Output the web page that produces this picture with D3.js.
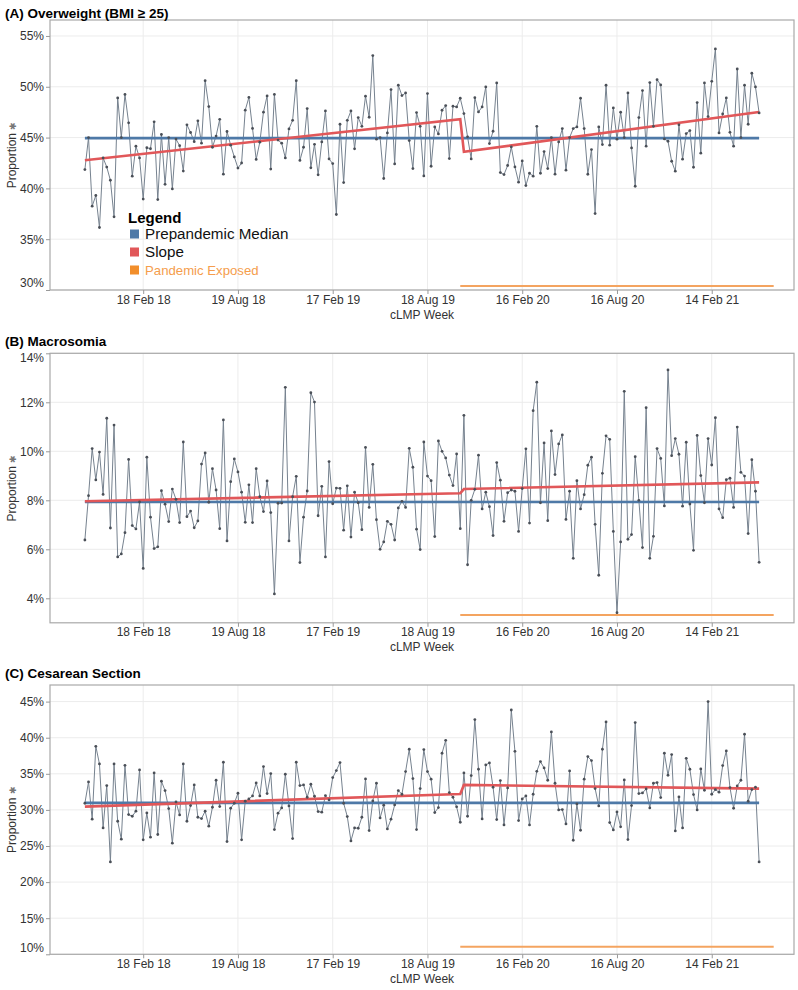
<!DOCTYPE html>
<html><head><meta charset="utf-8">
<script src="https://cdn.jsdelivr.net/npm/d3@7"></script>
<style>
body{margin:0;background:#fff}
svg{display:block}
text{font-family:"Liberation Sans",Arial,sans-serif}
</style>
</head><body>
<svg id="c" width="798" height="990"></svg>
<script>
// ---------- data ----------
const firstWeek = new Date(2017, 9, 29);   // first cLMP week (Sunday)
const nWeeks = 186;
const xTicks = [new Date(2018,1,18), new Date(2018,7,19), new Date(2019,1,17), new Date(2019,7,18),
                new Date(2020,1,16), new Date(2020,7,16), new Date(2021,1,14)];
const xDomain = [new Date(2017,7,23), new Date(2021,6,22)];
const pandemicPeriod = [new Date(2019,9,20), new Date(2021,5,13)];
const breakWeek = 104; // first post-break week index

const overweight = [41.85,45.0,38.25,39.3,36.15,43.0,42.1,40.8,37.2,48.9,
45.0,49.25,46.45,41.2,44.15,43.0,38.95,44.0,43.9,46.55,
38.9,45.3,40.4,45.0,39.95,44.85,44.2,41.7,46.25,45.5,
44.6,46.65,44.45,50.6,48.05,44.05,45.15,46.8,41.4,45.6,
44.25,43.1,42.0,42.5,47.7,48.95,45.9,42.85,44.55,47.5,
49.1,41.9,49.25,44.75,44.45,43.0,45.85,46.7,50.6,42.75,
44.05,47.85,42.02,44.34,41.33,44.57,47.62,42.9,42.44,37.43,
46.31,40.57,46.7,47.62,43.89,46.97,46.11,49.07,47.0,53.07,
44.84,45.0,40.97,45.46,49.72,42.41,50.15,49.13,49.39,44.7,
41.95,47.46,46.11,41.23,49.33,42.18,46.05,45.36,47.69,48.15,
42.93,48.08,48.02,48.87,47.36,45.07,42.9,48.93,47.52,48.02,
49.98,44.41,45.62,50.38,41.56,41.36,42.25,44.08,42.11,40.61,
42.7,40.28,41.49,41.2,46.11,41.49,43.62,41.95,45.0,41.4,
44.57,45.89,41.79,45.0,45.89,46.05,48.87,45.89,41.39,43.82,
37.52,46.05,44.31,50.15,44.25,47.92,44.84,47.49,45.0,49.39,
43.98,40.21,46.97,49.62,44.15,50.41,46.11,50.7,50.18,44.87,
44.64,42.67,41.69,46.25,42.87,45.39,45.69,42.08,48.44,43.46,
50.38,47.07,50.54,53.72,45.46,47.33,48.9,45.52,44.15,51.75,
45.0,50.15,46.31,51.33,49.98,47.43];

const macrosomia = [6.38,8.19,10.11,8.83,9.97,8.24,11.35,6.87,11.07,5.69,
5.81,6.68,9.67,6.97,6.83,7.93,5.22,9.76,7.31,6.03,
6.1,8.39,7.84,7.13,8.46,8.04,7.09,10.38,7.33,7.56,
6.88,7.16,9.48,9.93,7.92,9.29,8.42,6.84,11.28,6.34,
8.76,9.69,9.16,8.33,7.1,8.63,7.09,9.29,8.15,7.54,
8.79,7.5,4.18,7.88,7.89,12.61,6.34,8.15,8.98,5.46,
7.31,8.38,12.39,12.01,7.37,8.57,5.69,9.58,7.86,8.5,
8.49,6.78,8.59,6.5,8.33,7.9,6.8,10.16,7.71,9.47,
7.21,6.0,6.3,7.14,7.02,6.38,7.69,7.96,7.71,10.12,
9.35,6.82,5.99,10.38,8.99,8.8,6.52,10.42,10.0,9.73,
9.03,8.6,9.89,6.84,11.47,5.37,8.0,8.45,9.84,7.65,
8.33,7.74,6.56,9.54,8.82,7.14,8.31,8.42,8.37,6.73,
8.48,10.1,7.07,11.66,12.82,7.9,10.34,7.17,10.83,9.05,
10.3,10.67,7.22,8.37,5.63,8.8,7.65,8.23,9.43,9.76,
7.02,4.94,9.1,10.63,10.49,6.73,3.41,6.3,12.45,6.41,
6.6,9.78,8.0,6.07,11.78,5.63,6.53,10.11,9.71,7.77,
13.32,9.82,10.52,9.88,7.76,10.37,7.85,5.96,10.65,9.01,
7.9,10.52,9.44,11.37,7.65,7.29,8.84,8.9,7.71,10.99,
9.14,8.99,6.64,9.66,8.37,5.47];

const cesarean = [30.92,33.88,28.71,38.81,36.37,27.51,33.37,22.8,36.37,28.43,
25.94,36.18,29.35,29.12,29.82,35.54,25.85,29.58,26.22,35.12,
26.59,33.97,32.68,30.18,25.39,31.11,29.31,36.37,28.43,30.6,
33.46,28.98,28.8,29.82,27.74,30.37,34.11,30.46,36.6,25.62,
30.23,30.92,32.31,25.85,31.2,31.52,31.94,33.74,31.94,36.0,
32.26,35.03,27.28,29.54,30.28,34.94,30.55,26.03,36.6,33.37,
33.46,31.75,33.55,31.89,29.77,29.68,31.98,31.38,34.48,35.45,
36.55,30.92,29.08,25.71,27.51,27.46,28.98,34.29,27.14,31.25,
33.69,28.89,30.65,27.37,28.71,30.69,32.68,32.17,35.31,38.4,
34.34,27.28,32.95,38.35,35.31,34.25,29.63,30.32,37.85,39.64,
32.4,31.75,30.42,28.29,35.12,29.12,34.75,42.51,35.63,28.75,
36.23,36.51,33.14,28.66,34.06,27.92,33.05,43.84,38.12,28.52,
31.52,31.94,27.92,32.17,35.35,36.69,35.81,34.11,40.8,33.69,
30.0,30.05,28.06,35.4,25.8,30.83,27.18,34.25,37.38,36.83,
32.95,30.55,38.4,42.18,28.25,27.23,29.72,27.65,34.15,25.89,
30.6,42.09,32.26,32.35,32.91,30.28,33.69,33.78,31.71,37.85,
34.8,37.66,27.09,31.8,27.51,37.15,35.63,32.12,30.0,35.68,
32.72,45.0,32.17,32.81,32.45,36.14,38.17,33.09,30.23,33.32,
34.11,40.48,31.2,32.81,33.14,22.8];

// prepandemic medians
const overweightMedian = 44.95, macrosomiaMedian = 7.93, cesareanMedian = 30.97;
// segmented slope: [pre start, pre end, post start, post end]
const overweightSlope = [42.77, 46.8, 43.59, 47.52];
const macrosomiaSlope = [7.96, 8.29, 8.46, 8.73];
const cesareanSlope   = [30.46, 32.2, 33.46, 32.95];

const overweightTicks = [30,35,40,45,50,55];
const macrosomiaTicks = [4,6,8,10,12,14];
const cesareanTicks   = [10,15,20,25,30,35,40,45];

const titles = ["(A) Overweight (BMI \u2265 25)", "(B) Macrosomia", "(C) Cesarean Section"];
const legendLabels = ["Prepandemic Median", "Slope", "Pandemic Exposed"];

// ---------- layout ----------
const C_BLUE = "#4e79a7", C_RED = "#e15759", C_ORANGE = "#f28e2b", C_ORANGE_LINE = "#f4a460";
const L = 50, R = 794;
const layout = [
  {values: overweight, median: overweightMedian, slope: overweightSlope, ticks: overweightTicks,
   domain: [30, 56.57], top: 20, bottom: 290, titleY: 18, pandemicLevel: 30.39},
  {values: macrosomia, median: macrosomiaMedian, slope: macrosomiaSlope, ticks: macrosomiaTicks,
   domain: [3, 14], top: 353.3, bottom: 622.8, titleY: 346, pandemicLevel: 3.32},
  {values: cesarean, median: cesareanMedian, slope: cesareanSlope, ticks: cesareanTicks,
   domain: [10, 47.3], top: 685, bottom: 954.3, titleY: 678, pandemicLevel: 11.05}
];

const weeks = d3.range(nWeeks).map(i => d3.timeWeek.offset(firstWeek, i));
const svg = d3.select("#c");
const x = d3.scaleTime().domain(xDomain).range([L, R]);
const fmt = d3.timeFormat("%-d %b %y");

layout.forEach((p, k) => {
  const y = d3.scaleLinear().domain(p.domain).range([p.bottom, p.top]);
  const g = svg.append("g");

  // gridlines
  g.append("g").selectAll("line").data(xTicks).join("line")
    .attr("x1", d => x(d)).attr("x2", d => x(d))
    .attr("y1", p.top).attr("y2", p.bottom)
    .attr("stroke", "#ececec").attr("stroke-width", 1);
  g.append("g").selectAll("line").data(p.ticks).join("line")
    .attr("x1", L).attr("x2", R)
    .attr("y1", d => y(d)).attr("y2", d => y(d))
    .attr("stroke", "#ececec").attr("stroke-width", 1);

  // frame
  g.append("rect").attr("x", L).attr("y", p.top)
    .attr("width", R - L).attr("height", p.bottom - p.top)
    .attr("fill", "none").attr("stroke", "#a9a9a9").attr("stroke-width", 1.2);

  // x axis
  const xa = g.append("g").attr("transform", `translate(0,${p.bottom})`)
    .call(d3.axisBottom(x).tickValues(xTicks).tickFormat(fmt).tickSize(4).tickSizeOuter(0).tickPadding(1));
  xa.select(".domain").remove();
  xa.attr("font-family", null).attr("font-size", 12);
  xa.selectAll("line").attr("stroke", "#999");
  xa.selectAll("text").attr("fill", "#333");

  // y axis
  const ya = g.append("g").attr("transform", `translate(${L},0)`)
    .call(d3.axisLeft(y).tickValues(p.ticks).tickFormat(d => d + "%").tickSize(4).tickSizeOuter(0).tickPadding(2));
  ya.select(".domain").remove();
  ya.attr("font-family", null).attr("font-size", 12);
  ya.selectAll("line").attr("stroke", "#999");
  ya.selectAll("text").attr("fill", "#333")
    .attr("transform", d => {
      const yy = y(d);
      const c = Math.max(p.top + 4, Math.min(p.bottom - 7, yy));
      return `translate(0,${c - yy})`;
    });

  // axis titles
  g.append("text").attr("x", (L + R) / 2).attr("y", p.bottom + 28.5)
    .attr("text-anchor", "middle").attr("font-size", 12).attr("fill", "#333").text("cLMP Week");
  const yt = g.append("text")
    .attr("transform", `translate(16,${(p.top + p.bottom) / 2}) rotate(-90)`)
    .attr("text-anchor", "middle").attr("font-size", 12).attr("fill", "#333");
  yt.append("tspan").text("Proportion ");
  yt.append("tspan").attr("font-size", 9).attr("fill", "#777").text("\u2731");

  // panel title
  g.append("text").attr("x", 5).attr("y", p.titleY)
    .attr("font-size", 13.5).attr("font-weight", "bold").attr("fill", "#000").text(titles[k]);

  // data series
  const line = d3.line().x((d, i) => x(weeks[i])).y(d => y(d));
  g.append("path").datum(p.values).attr("d", line)
    .attr("fill", "none").attr("stroke", "#76828f").attr("stroke-width", 1);

  // median
  const seg = d3.line().x(d => x(d[0])).y(d => y(d[1]));
  g.append("path").datum([[weeks[0], p.median], [weeks[nWeeks - 1], p.median]])
    .attr("d", seg).attr("fill", "none").attr("stroke", C_BLUE).attr("stroke-width", 2.6);

  // slope
  g.append("path").datum([[weeks[0], p.slope[0]], [weeks[breakWeek - 1], p.slope[1]],
                          [weeks[breakWeek], p.slope[2]], [weeks[nWeeks - 1], p.slope[3]]])
    .attr("d", seg).attr("fill", "none").attr("stroke", C_RED).attr("stroke-width", 2.6);

  // points
  g.append("g").selectAll("circle").data(p.values).join("circle")
    .attr("cx", (d, i) => x(weeks[i])).attr("cy", d => y(d)).attr("r", 1.4).attr("fill", "#4a4f57");

  // pandemic exposed
  g.append("path").datum([[pandemicPeriod[0], p.pandemicLevel], [pandemicPeriod[1], p.pandemicLevel]])
    .attr("d", seg).attr("fill", "none").attr("stroke", C_ORANGE_LINE).attr("stroke-width", 2);

  // legend in panel A
  if (k === 0) {
    const lg = g.append("g");
    lg.append("text").attr("x", 128).attr("y", 222.5).attr("font-size", 15).attr("font-weight", "bold")
      .attr("fill", "#000").text("Legend");
    const cols = [C_BLUE, C_RED, C_ORANGE];
    const ys = [234, 252, 270];
    legendLabels.forEach((lab, j) => {
      lg.append("rect").attr("x", 130).attr("y", ys[j] - 4.5).attr("width", 9).attr("height", 9).attr("fill", cols[j]);
      lg.append("text").attr("x", 145).attr("y", ys[j] + (j === 2 ? 4.7 : 5.4))
        .attr("font-size", j === 2 ? 13.2 : 15.2)
        .attr("fill", j === 2 ? "#f59d4c" : "#111").text(lab);
    });
  }
});
</script>
</body></html>
